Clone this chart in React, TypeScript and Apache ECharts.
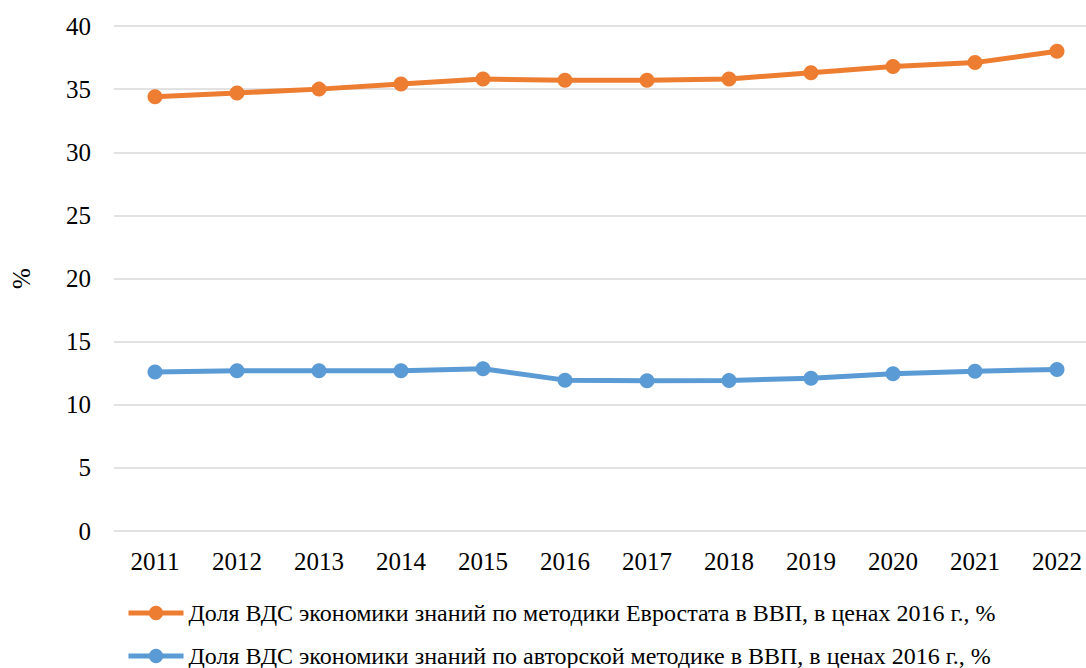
import React, { useEffect, useRef } from "react";
import * as echarts from "echarts";

const years = ["2011", "2012", "2013", "2014", "2015", "2016", "2017", "2018", "2019", "2020", "2021", "2022"];
const eurostatShare = [34.4, 34.7, 35.0, 35.4, 35.8, 35.7, 35.7, 35.8, 36.3, 36.8, 37.1, 38.0];
const authorShare = [12.6, 12.7, 12.7, 12.7, 12.85, 11.95, 11.9, 11.92, 12.1, 12.45, 12.65, 12.8];
const seriesNames = [
  "Доля ВДС экономики знаний по методики Евростата в ВВП, в ценах 2016 г., %",
  "Доля ВДС экономики знаний по авторской методике в ВВП, в ценах 2016 г., %",
];
const colors = ["#ED7D31", "#5B9BD5"];

const FONT = "'Times New Roman', 'Liberation Serif', serif";

export default function App() {
  const ref = useRef<HTMLDivElement>(null);
  useEffect(() => {
    if (!ref.current) return;
    const chart = echarts.init(ref.current, undefined, { renderer: "svg" });
    chart.setOption({
      animation: false,
      backgroundColor: "#ffffff",
      textStyle: { fontFamily: FONT },
      grid: { left: 114, right: 2, top: 26, bottom: 137, containLabel: false, outerBoundsMode: "none" },
      legend: {
        orient: "vertical",
        left: 126,
        top: 601,
        padding: 0,
        height: 67,
        itemWidth: 55,
        itemHeight: 18,
        itemGap: 19,
        data: seriesNames,
        lineStyle: { width: 5 },
        textStyle: { fontFamily: FONT, fontSize: 24, color: "#000" },
      },
      xAxis: {
        type: "category",
        data: years,
        boundaryGap: true,
        axisLine: { show: false },
        axisTick: { show: false },
        axisLabel: { fontFamily: FONT, fontSize: 25, color: "#000", margin: 18 },
      },
      yAxis: {
        type: "value",
        min: 0,
        max: 40,
        interval: 5,
        name: "%",
        nameLocation: "middle",
        nameRotate: 90,
        nameGap: 80,
        nameTextStyle: { fontFamily: FONT, fontSize: 25, color: "#000" },
        axisLine: { show: false },
        axisTick: { show: false },
        axisLabel: { fontFamily: FONT, fontSize: 25, color: "#000", margin: 23 },
        splitLine: { lineStyle: { color: "#D9D9D9", width: 1.5 } },
      },
      series: [
        {
          name: seriesNames[0],
          type: "line",
          data: eurostatShare,
          symbol: "circle",
          symbolSize: 15,
          lineStyle: { color: colors[0], width: 5 },
          itemStyle: { color: colors[0] },
        },
        {
          name: seriesNames[1],
          type: "line",
          data: authorShare,
          symbol: "circle",
          symbolSize: 15,
          lineStyle: { color: colors[1], width: 5 },
          itemStyle: { color: colors[1] },
        },
      ],
    });
    return () => chart.dispose();
  }, []);
  return (
    <div style={{ position: "fixed", left: 0, top: 0, width: 1086, height: 668, overflow: "hidden", background: "#fff" }}>
      <div ref={ref} style={{ position: "absolute", left: 0, top: 0, width: 1100, height: 668 }} />
    </div>
  );
}
